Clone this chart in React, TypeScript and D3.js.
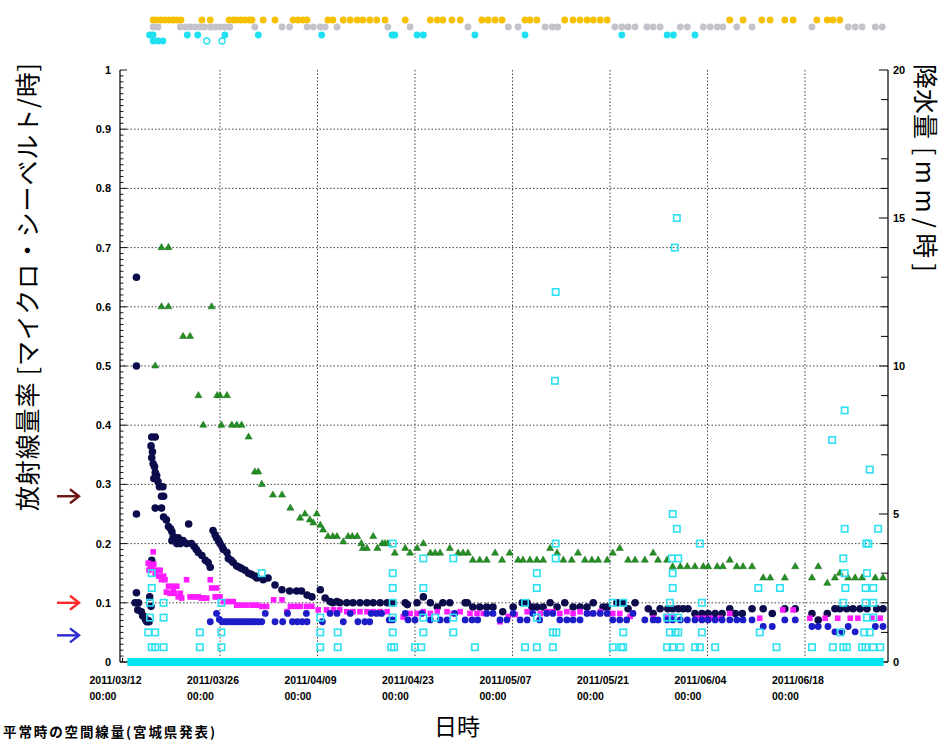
import React from "react";
import * as d3 from "d3";

// Days are counted from 2011/03/12 00:00 (fractional days).
const BASE = new Date(2011, 2, 12);
const day = (d: number) => new Date(BASE.getTime() + d * 864e5);

const xTickLabels = [
  "2011/03/12", "2011/03/26", "2011/04/09", "2011/04/23",
  "2011/05/07", "2011/05/21", "2011/06/04", "2011/06/18",
];
const doseTickValues = [0, 0.1, 0.2, 0.3, 0.4, 0.5, 0.6, 0.7, 0.8, 0.9, 1];
const rainTickValues = [0, 5, 10, 15, 20];

// Air dose rate, site A (dark navy circles) [day, μSv/h]
const navyDose: [number, number][] = [
  [2.0, 0.65], [2.0, 0.5], [2.0, 0.25],
  [1.8, 0.1], [2.0, 0.117], [2.3, 0.1], [2.2, 0.088], [2.7, 0.085], [2.9, 0.078], [3.1, 0.077],
  [3.3, 0.072], [3.5, 0.068], [3.7, 0.07], [3.8, 0.068], [3.9, 0.11], [4.1, 0.094], [4.2, 0.172],
  [4.2, 0.38], [4.7, 0.38], [4.1, 0.365], [4.3, 0.355], [4.2, 0.345], [4.4, 0.335], [4.6, 0.33],
  [4.7, 0.32], [4.5, 0.31], [4.9, 0.315], [5.1, 0.305], [5.3, 0.296], [5.8, 0.296], [5.6, 0.28],
  [5.9, 0.28], [4.7, 0.26], [5.6, 0.26], [5.9, 0.245], [6.3, 0.24], [6.6, 0.229], [6.9, 0.225],
  [7.1, 0.22], [7.3, 0.212], [7.1, 0.205], [7.5, 0.21], [7.8, 0.2], [8.0, 0.21], [8.3, 0.2],
  [8.7, 0.205], [9.2, 0.2], [9.5, 0.233], [9.9, 0.2], [10.3, 0.195], [10.6, 0.19], [10.9, 0.185],
  [11.4, 0.18], [11.9, 0.172], [12.3, 0.168], [12.6, 0.16], [13.0, 0.222], [13.3, 0.215],
  [13.5, 0.21], [13.8, 0.205], [14.0, 0.2], [14.3, 0.195], [14.5, 0.19], [15.0, 0.185],
  [15.2, 0.175], [15.6, 0.172], [15.9, 0.168], [16.4, 0.162], [16.8, 0.16], [17.1, 0.158],
  [17.6, 0.155], [18.1, 0.15], [18.5, 0.148], [19.0, 0.145], [19.3, 0.142], [20.2, 0.139],
  [20.9, 0.142], [21.9, 0.13], [22.9, 0.122], [24.0, 0.12], [25.0, 0.12], [25.7, 0.12],
  [26.5, 0.113], [27.2, 0.11], [28.4, 0.122], [29.1, 0.108], [29.8, 0.102], [30.2, 0.1],
  [30.8, 0.102], [31.2, 0.1], [32.2, 0.1], [33.1, 0.1], [34.1, 0.1], [35.1, 0.1], [36.0, 0.1],
  [37.0, 0.1], [38.0, 0.1], [38.8, 0.1], [40.6, 0.1], [40.9, 0.097], [42.3, 0.1], [43.2, 0.11],
  [44.2, 0.1], [45.2, 0.093], [46.0, 0.1], [47.0, 0.1], [49.2, 0.1], [49.5, 0.1], [50.3, 0.093],
  [51.3, 0.093], [52.3, 0.093], [53.2, 0.093], [54.6, 0.085], [56.1, 0.093], [57.4, 0.1],
  [58.1, 0.1], [58.8, 0.093], [59.5, 0.093], [60.4, 0.093], [61.4, 0.1], [62.4, 0.093],
  [63.5, 0.1], [64.7, 0.093], [65.7, 0.093], [66.7, 0.093], [67.6, 0.1], [69.0, 0.093],
  [69.6, 0.093], [71.0, 0.1], [71.9, 0.1], [73.6, 0.1], [72.6, 0.09], [75.5, 0.09], [76.2, 0.082],
  [77.2, 0.09], [78.3, 0.09], [79.0, 0.09], [79.8, 0.09], [80.5, 0.09], [81.2, 0.09], [82.2, 0.082],
  [83.2, 0.082], [84.1, 0.082], [85.1, 0.082], [86.1, 0.082], [87.2, 0.09], [88.0, 0.082],
  [89.0, 0.082], [90.4, 0.09], [92.0, 0.09], [93.3, 0.082], [95.1, 0.09], [96.6, 0.09],
  [99.0, 0.082], [99.9, 0.071], [101.2, 0.082], [102.3, 0.09], [103.0, 0.09], [104.0, 0.09],
  [104.9, 0.09], [105.9, 0.09], [106.9, 0.09], [108.3, 0.09], [109.2, 0.09],
];

// Air dose rate, site B (magenta squares) [day, μSv/h]
const magentaDose: [number, number][] = [
  [3.7, 0.167], [3.8, 0.155], [4.0, 0.16], [4.2, 0.16], [4.4, 0.186], [4.5, 0.165], [4.7, 0.15],
  [4.9, 0.155], [5.2, 0.145], [5.4, 0.155], [5.6, 0.139], [5.9, 0.145], [6.1, 0.139], [6.3, 0.118],
  [6.6, 0.128], [6.8, 0.116], [7.1, 0.128], [7.3, 0.12], [7.5, 0.116], [7.8, 0.128], [8.0, 0.11],
  [8.3, 0.116], [8.5, 0.108], [9.2, 0.139], [9.7, 0.11], [10.1, 0.11], [10.4, 0.11], [10.9, 0.11],
  [11.3, 0.108], [11.6, 0.108], [12.1, 0.108], [12.6, 0.139], [12.8, 0.125], [13.3, 0.11],
  [13.5, 0.125], [13.6, 0.11], [14.0, 0.11], [14.5, 0.102], [15.2, 0.102], [15.9, 0.102],
  [16.4, 0.096], [17.1, 0.096], [17.8, 0.096], [18.6, 0.096], [19.3, 0.096], [20.0, 0.094],
  [20.7, 0.094], [21.7, 0.105], [22.9, 0.105], [23.6, 0.085], [24.1, 0.094], [24.8, 0.094],
  [25.5, 0.094], [26.4, 0.094], [27.2, 0.094], [28.1, 0.088], [29.3, 0.088], [30.3, 0.088],
  [31.2, 0.088], [32.2, 0.085], [33.1, 0.085], [34.1, 0.085], [35.1, 0.085], [36.0, 0.085],
  [37.0, 0.085], [38.0, 0.085], [40.3, 0.076], [41.3, 0.082], [42.3, 0.082], [43.2, 0.085],
  [44.2, 0.082], [45.2, 0.085], [46.6, 0.085], [47.5, 0.082], [48.5, 0.085], [49.9, 0.082],
  [50.9, 0.082], [51.8, 0.082], [54.2, 0.068], [55.4, 0.077], [56.4, 0.08], [58.1, 0.085],
  [60.0, 0.082], [61.0, 0.085], [61.8, 0.085], [62.8, 0.082], [63.8, 0.085], [64.7, 0.082],
  [65.7, 0.085], [67.1, 0.082], [68.6, 0.085], [69.6, 0.082], [70.4, 0.082], [71.4, 0.082],
  [72.9, 0.077], [73.3, 0.082], [76.2, 0.074], [78.2, 0.077], [79.0, 0.077], [82.5, 0.074],
  [83.4, 0.074], [84.4, 0.074], [85.8, 0.074], [87.2, 0.082], [91.5, 0.074], [94.8, 0.088],
  [96.3, 0.088], [98.7, 0.074], [100.9, 0.074], [102.7, 0.074], [104.5, 0.074], [105.6, 0.074],
  [107.6, 0.074], [108.8, 0.074],
];

// Air dose rate, site C (blue circles) [day, μSv/h]
const blueDose: [number, number][] = [
  [12.6, 0.068], [13.5, 0.082], [13.9, 0.072], [14.3, 0.068], [14.7, 0.068], [15.1, 0.068],
  [15.5, 0.068], [15.9, 0.068], [16.3, 0.068], [16.7, 0.068], [17.1, 0.068], [17.5, 0.068],
  [17.9, 0.068], [18.3, 0.068], [18.7, 0.068], [19.1, 0.068], [19.5, 0.068], [20.0, 0.068],
  [20.5, 0.082], [21.9, 0.068], [23.0, 0.068], [23.7, 0.082], [24.4, 0.068], [25.1, 0.068],
  [25.8, 0.068], [26.5, 0.068], [26.4, 0.082], [28.7, 0.068], [29.8, 0.082], [30.8, 0.082],
  [31.7, 0.068], [32.7, 0.082], [33.8, 0.068], [34.8, 0.068], [35.5, 0.068], [35.7, 0.082],
  [36.5, 0.082], [37.2, 0.082], [38.3, 0.071], [38.8, 0.071], [40.6, 0.082], [41.0, 0.071],
  [42.0, 0.071], [43.0, 0.082], [44.2, 0.071], [45.6, 0.071], [46.6, 0.071], [47.7, 0.082],
  [49.2, 0.071], [50.2, 0.071], [51.0, 0.071], [52.3, 0.082], [53.2, 0.082], [54.2, 0.071],
  [55.2, 0.071], [56.1, 0.082], [57.1, 0.071], [58.1, 0.071], [58.9, 0.082], [59.9, 0.071],
  [60.9, 0.082], [61.8, 0.082], [62.8, 0.071], [63.8, 0.071], [64.7, 0.071], [65.7, 0.071],
  [66.7, 0.082], [67.6, 0.082], [68.6, 0.082], [69.6, 0.082], [70.4, 0.071], [71.4, 0.071],
  [72.4, 0.071], [73.3, 0.082], [75.0, 0.071], [76.2, 0.071], [76.9, 0.071], [78.2, 0.071],
  [79.0, 0.071], [80.1, 0.071], [81.1, 0.071], [82.2, 0.071], [83.2, 0.071], [84.1, 0.071],
  [85.1, 0.071], [86.1, 0.071], [87.2, 0.071], [88.2, 0.071], [89.1, 0.071], [90.4, 0.071],
  [92.0, 0.06], [93.3, 0.06], [95.1, 0.071], [96.6, 0.071], [99.0, 0.06], [99.9, 0.06],
  [101.3, 0.06], [102.3, 0.051], [103.3, 0.051], [104.2, 0.06], [105.2, 0.051], [108.1, 0.06],
  [109.2, 0.06],
];

// Air dose rate, site D (green triangles) [day, μSv/h]
const greenDose: [number, number][] = [
  [4.7, 0.5], [5.6, 0.7], [6.6, 0.7], [5.6, 0.6], [6.6, 0.6], [8.7, 0.55], [9.7, 0.55],
  [12.8, 0.6], [10.9, 0.45], [13.6, 0.45], [14.0, 0.45], [15.0, 0.45], [11.6, 0.4], [14.2, 0.4],
  [15.7, 0.4], [16.4, 0.4], [17.1, 0.4], [18.1, 0.38], [19.0, 0.321], [19.5, 0.321], [20.0, 0.3],
  [21.6, 0.282], [22.9, 0.282], [24.1, 0.26], [25.5, 0.243], [26.2, 0.25], [26.9, 0.24],
  [27.4, 0.235], [27.9, 0.25], [28.4, 0.231], [28.8, 0.223], [29.5, 0.212], [30.2, 0.212],
  [30.8, 0.212], [31.7, 0.203], [32.4, 0.212], [33.0, 0.212], [33.7, 0.212], [34.3, 0.2],
  [34.5, 0.192], [35.1, 0.192], [36.0, 0.212], [36.6, 0.192], [37.3, 0.2], [37.7, 0.2],
  [38.1, 0.2], [39.1, 0.184], [40.6, 0.192], [41.3, 0.184], [42.3, 0.192], [43.2, 0.2],
  [44.2, 0.184], [44.9, 0.184], [45.6, 0.184], [47.0, 0.192], [48.2, 0.184], [48.9, 0.184],
  [49.6, 0.184], [50.3, 0.172], [51.3, 0.172], [52.3, 0.172], [53.5, 0.184], [54.5, 0.172],
  [55.6, 0.184], [56.8, 0.172], [57.5, 0.172], [58.5, 0.172], [59.5, 0.172], [60.4, 0.172],
  [61.4, 0.192], [62.4, 0.184], [63.3, 0.172], [64.5, 0.172], [65.4, 0.184], [66.4, 0.172],
  [67.4, 0.172], [68.3, 0.172], [69.6, 0.172], [70.4, 0.184], [71.4, 0.192], [72.6, 0.172],
  [73.6, 0.172], [75.0, 0.172], [76.2, 0.184], [76.9, 0.172], [78.2, 0.172], [79.0, 0.161],
  [80.1, 0.161], [81.1, 0.161], [82.2, 0.161], [83.4, 0.161], [84.1, 0.161], [85.4, 0.161],
  [86.2, 0.161], [87.2, 0.172], [88.2, 0.161], [89.1, 0.161], [90.4, 0.161], [92.0, 0.142],
  [93.0, 0.142], [95.1, 0.142], [96.6, 0.161], [99.0, 0.142], [99.9, 0.161], [101.2, 0.133],
  [102.3, 0.142], [103.0, 0.15], [104.2, 0.142], [105.2, 0.142], [106.2, 0.142], [108.1, 0.142],
  [109.2, 0.142],
];

// Hourly precipitation readings above zero [day, mm/h]
const rainfall: [number, number][] = [
  [4.2, 3], [4.2, 2.5], [3.95, 2], [3.95, 1.5], [3.7, 1], [4.7, 1], [4.2, 0.5], [4.7, 0.5],
  [5.9, 2], [5.9, 1.5], [5.9, 0.5], [11.1, 1], [11.1, 0.5], [14.2, 2], [14.2, 1], [14.2, 0.5],
  [20.0, 3], [28.4, 1.5], [28.4, 1], [28.4, 0.5], [30.9, 1], [30.9, 0.5],
  [38.8, 4], [38.8, 3], [38.8, 2.5], [38.8, 2], [38.8, 1.5], [38.8, 1], [38.6, 0.5], [39.0, 0.5],
  [42.0, 0.5], [42.9, 0.5], [43.2, 3.5], [43.2, 2.5], [43.2, 1.5], [43.2, 1], [44.9, 1.5],
  [47.5, 3.5], [47.5, 1.5], [47.5, 1], [50.6, 0.5], [57.8, 2], [57.8, 0.5],
  [59.5, 3], [59.5, 2.5], [59.5, 1.5], [59.5, 0.5],
  [62.2, 12.5], [62.1, 9.5], [62.2, 4], [62.2, 3.5], [61.8, 1], [62.3, 1], [61.8, 0.5],
  [70.4, 2], [70.4, 0.5], [71.9, 2], [71.9, 1], [71.9, 0.5], [71.6, 0.5],
  [79.6, 15], [79.3, 14], [79.0, 5], [79.6, 4.5], [78.9, 3.5], [79.8, 3.5], [79.0, 3], [79.0, 2.5],
  [78.6, 2], [78.2, 1.5], [79.0, 1.5], [79.8, 1.5], [78.6, 1], [79.4, 1], [79.8, 1], [78.2, 0.5],
  [79.0, 0.5], [80.1, 0.5], [82.9, 4], [83.2, 2], [83.2, 1], [82.2, 0.5], [82.9, 0.5], [85.1, 0.5],
  [91.3, 2.5], [91.5, 1], [94.4, 2.5], [93.9, 0.5], [99.0, 0.5], [101.9, 7.5],
  [103.7, 8.5], [103.7, 4.5], [103.5, 3.5], [103.7, 3], [103.8, 2.5], [103.5, 2], [103.1, 1],
  [102.0, 0.5], [103.5, 0.5], [104.0, 0.5],
  [107.3, 6.5], [106.8, 4], [107.1, 4], [106.9, 3], [106.7, 2.5], [107.8, 2.5], [106.7, 2],
  [107.8, 2], [106.9, 1.5], [107.8, 1.5], [106.5, 1], [107.3, 1], [106.2, 0.5], [106.7, 0.5],
  [107.8, 0.5], [108.8, 0.5], [108.5, 4.5],
];

// Span of zero-precipitation readings [start day, end day]
const dryRuns: [number, number][] = [[0.7, 109.3]];

// Daily weather strip
const sunnyDays = [
  4.4, 4.9, 5.5, 6.1, 6.7, 7.3, 7.8, 8.4, 11.4, 12.6, 15.3, 15.9, 16.4, 17.0, 17.6, 18.2, 18.6,
  20.2, 21.9, 24.5, 25.2, 25.9, 26.5, 29.5, 30.2, 31.7, 32.7, 33.7, 34.5, 35.5, 36.5, 37.7, 40.6,
  44.2, 45.2, 46.0, 47.3, 48.5, 51.6, 52.5, 53.5, 54.5, 57.8, 58.5, 59.5, 63.5, 64.7, 65.7, 66.7,
  67.6, 68.6, 69.6, 87.2, 89.1, 91.8, 93.0, 95.1, 96.3, 99.7, 101.2, 102.0, 103.0,
];
const cloudyDays = [
  4.4, 5.1, 8.3, 9.0, 9.7, 10.4, 11.1, 11.8, 12.6, 13.3, 14.0, 14.7, 15.4, 19.0, 22.9, 24.0,
  26.5, 27.4, 28.4, 29.1, 30.8, 38.1, 41.3, 49.6, 55.4, 56.8, 60.7, 61.7, 62.5, 70.7, 71.7, 72.6,
  73.6, 75.3, 76.2, 77.2, 80.1, 81.1, 83.4, 84.4, 85.4, 86.2, 88.2, 90.4, 99.0, 104.2, 105.2,
  106.2, 108.1, 109.1,
];
const rainyDays = [3.9, 4.4, 9.3, 10.8, 14.7, 19.5, 28.6, 38.7, 39.1, 42.3, 43.2, 50.6, 57.8, 71.7, 78.2, 79.1, 82.2];
const heavyRainDays = [4.4, 5.1, 5.8];
const sleetDays = [12.1, 14.3];

// Normal background levels (Miyagi Prefecture)
const normalLevels = [0.28, 0.1, 0.045];
const normalColors = ["#6e1414", "#ff2a2a", "#2a2ad0"];

export default function App() {
  const W = 950, H = 742;
  const left = 120, right = 888, top = 70, bottom = 662;

  const x = d3.scaleTime().domain([day(-0.36), day(109.92)]).range([left, right]);
  const y = d3.scaleLinear().domain([0, 1]).range([bottom, top]);
  const yRain = d3.scaleLinear().domain([0, 20]).range([bottom, top]);
  const parse = d3.timeParse("%Y/%m/%d");
  const tickDates = xTickLabels.map((s) => parse(s)!);

  const tri = d3.symbol().type(d3.symbolTriangle).size(22)()!;
  const numFont = "'Liberation Sans', Arial, sans-serif";
  const jpFont = "'Noto Sans CJK JP', sans-serif";
  const minorTicks = d3.range(0, 101).map((i) => i / 100);
  const rainMinor = d3.range(0, 21);
  const gridDose = doseTickValues.filter((v) => v > 0 && v < 1);

  return (
    <svg width={W} height={H} style={{ position: "absolute", left: 0, top: 0, background: "#fff" }}>
      <rect width={W} height={H} fill="#fff" />

      {/* weather strip */}
      {sunnyDays.map((d, i) => <circle key={"s" + i} cx={x(day(d))} cy={20} r={3.4} fill="#f7c000" />)}
      {cloudyDays.map((d, i) => <circle key={"c" + i} cx={x(day(d))} cy={27} r={3.4} fill="#c3c3cb" />)}
      {rainyDays.map((d, i) => <circle key={"r" + i} cx={x(day(d))} cy={35} r={3.4} fill="#1fe0f0" />)}
      {heavyRainDays.map((d, i) => <circle key={"h" + i} cx={x(day(d))} cy={41} r={3.4} fill="#1fe0f0" />)}
      {sleetDays.map((d, i) => <circle key={"l" + i} cx={x(day(d))} cy={41} r={3} fill="none" stroke="#1fe0f0" strokeWidth={1.3} />)}

      {/* grid */}
      {gridDose.map((v) => (
        <line key={"gy" + v} x1={left} x2={right} y1={y(v)} y2={y(v)} stroke="#444" strokeWidth={1} strokeDasharray="1.5,2" />
      ))}
      {tickDates.slice(1).map((t, i) => (
        <line key={"gx" + i} x1={x(t)} x2={x(t)} y1={top} y2={bottom} stroke="#444" strokeWidth={1} strokeDasharray="1.5,2" />
      ))}

      {/* axes */}
      <line x1={left} x2={left} y1={top} y2={bottom} stroke="#000" strokeWidth={1.2} />
      <line x1={right} x2={right} y1={top} y2={bottom} stroke="#000" strokeWidth={1.2} />
      <line x1={left} x2={right} y1={bottom} y2={bottom} stroke="#000" strokeWidth={1.2} />
      {minorTicks.map((v, i) => (
        <line key={"mt" + i} x1={left} x2={left + (i % 10 === 0 ? 7 : 3.5)} y1={y(v)} y2={y(v)} stroke="#000" strokeWidth={0.9} />
      ))}
      {rainMinor.map((v) => (
        <line key={"rt" + v} x1={right} x2={right - (v % 5 === 0 ? 9 : 7)} y1={yRain(v)} y2={yRain(v)} stroke="#000" strokeWidth={1} />
      ))}
      {tickDates.map((t, i) => (
        <line key={"xt" + i} x1={x(t)} x2={x(t)} y1={bottom} y2={bottom - 4} stroke="#000" strokeWidth={1} />
      ))}

      {/* zero precipitation */}
      {dryRuns.map(([a, b], i) => (
        <rect key={"dry" + i} x={x(day(a))} y={yRain(0) - 4} width={x(day(b)) - x(day(a))} height={8} fill="#00e6f0" />
      ))}

      {/* dose series */}
      {navyDose.map(([d, v], i) => <circle key={"n" + i} cx={x(day(d))} cy={y(v)} r={3.8} fill="#0c0c4c" />)}
      {magentaDose.map(([d, v], i) => (
        <rect key={"m" + i} x={x(day(d)) - 2.8} y={y(v) - 2.8} width={5.6} height={5.6} fill="#ff1cff" />
      ))}
      {blueDose.map(([d, v], i) => <circle key={"b" + i} cx={x(day(d))} cy={y(v)} r={3.4} fill="#1c1cc8" />)}
      {greenDose.map(([d, v], i) => (
        <path key={"g" + i} d={tri} transform={`translate(${x(day(d))},${y(v)})`} fill="#249024" stroke="#1a6a1a" strokeWidth={0.5} />
      ))}

      {/* precipitation */}
      {rainfall.map(([d, mm], i) => (
        <rect key={"p" + i} x={x(day(d)) - 3.2} y={yRain(mm) - 3.2} width={6.4} height={6.4} fill="none" stroke="#2ee0f0" strokeWidth={1.6} />
      ))}

      {/* tick labels */}
      {doseTickValues.map((v) => (
        <text key={"yl" + v} x={111} y={y(v) + 4} textAnchor="end" fontFamily={numFont} fontWeight="bold" fontSize={11} fill="#000">
          {v === 0 || v === 1 ? String(v) : v.toFixed(1)}
        </text>
      ))}
      {rainTickValues.map((v) => (
        <text key={"rl" + v} x={893} y={yRain(v) + 4} fontFamily={numFont} fontWeight="bold" fontSize={11} fill="#000">
          {v}
        </text>
      ))}
      {tickDates.map((t, i) => (
        <text key={"xl" + i} x={x(t) - 33} y={684} fontFamily={numFont} fontWeight="bold" fontSize={10.5} fill="#000">
          <tspan x={x(t) - 33}>{xTickLabels[i]}</tspan>
          <tspan x={x(t) - 33} dy={16}>00:00</tspan>
        </text>
      ))}

      {/* normal-level arrows */}
      {normalLevels.map((v, i) => (
        <g key={"ar" + i} stroke={normalColors[i]} strokeWidth={2.4} fill="none">
          <line x1={57} x2={79} y1={y(v)} y2={y(v)} />
          <polyline points={`${70},${y(v) - 7} ${79},${y(v)} ${70},${y(v) + 7}`} />
        </g>
      ))}

      {/* titles */}
      <text transform="translate(37,287) rotate(-90)" textAnchor="middle" fontFamily={jpFont} fontSize={25} textLength={448} lengthAdjust="spacing" fill="#000">
        放射線量率 [マイクロ・シーベルト/時]
      </text>
      <text transform="translate(916,64) rotate(90)" fontFamily={jpFont} fontSize={25} fill="#000">
        <tspan>降水量</tspan>
        <tspan dx={8} textLength={125} lengthAdjust="spacing">[mm/時]</tspan>
      </text>
      <text x={457} y={735} textAnchor="middle" fontFamily={jpFont} fontSize={23} fill="#000">日時</text>
      <text x={3} y={737} fontFamily={jpFont} fontSize={13.5} fontWeight="bold" textLength={212} lengthAdjust="spacing" fill="#000">
        平常時の空間線量(宮城県発表)
      </text>
    </svg>
  );
}
